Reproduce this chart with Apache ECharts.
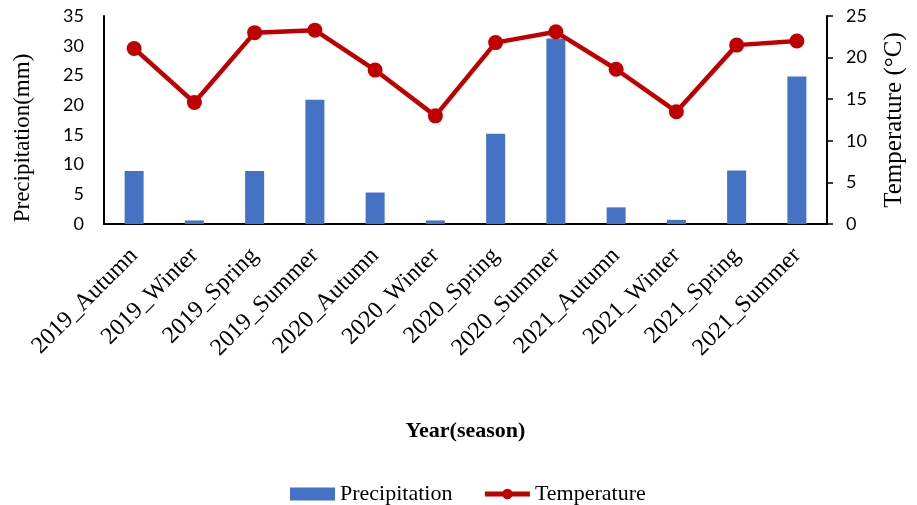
<!DOCTYPE html>
<html>
<head>
<meta charset="utf-8">
<script src="https://cdn.jsdelivr.net/npm/echarts@6/dist/echarts.min.js"></script>
<style>
html,body{margin:0;padding:0;background:#fff;}
#c{width:917px;height:505px;}
</style>
</head>
<body>
<div id="c"></div>
<script>
var categories = ['2019_Autumn','2019_Winter','2019_Spring','2019_Summer','2020_Autumn','2020_Winter','2020_Spring','2020_Summer','2021_Autumn','2021_Winter','2021_Spring','2021_Summer'];
var precipitation = [8.9, 0.6, 8.9, 20.9, 5.3, 0.6, 15.2, 31.2, 2.8, 0.7, 9.0, 24.8];
var temperature = [21.1, 14.6, 23.0, 23.3, 18.5, 13.0, 21.8, 23.1, 18.6, 13.5, 21.5, 22.0];
var leftTicks = {min: 0, max: 35, interval: 5};
var rightTicks = {min: 0, max: 25, interval: 5};

var serif = '"Liberation Serif", "Times New Roman", serif';
var sans = 'Lato, "Open Sans", sans-serif';
var chart = echarts.init(document.getElementById('c'));
chart.setOption({
  animation: false,
  backgroundColor: '#fff',
  grid: {left: 104, right: 90, top: 16, bottom: 281},
  legend: {
    left: 285, top: 478,
    itemWidth: 45, itemHeight: 13, itemGap: 30,
    textStyle: {fontFamily: serif, fontSize: 22, color: '#000'},
    data: [
      {name: 'Precipitation', icon: 'rect'},
      {name: 'Temperature', lineStyle: {width: 5, color: '#C00000'}}
    ]
  },
  xAxis: {
    type: 'category',
    data: categories,
    name: 'Year(season)',
    nameLocation: 'middle',
    nameGap: 196,
    nameTextStyle: {fontFamily: serif, fontSize: 22, fontWeight: 'bold', color: '#000'},
    axisLine: {lineStyle: {color: '#000', width: 2}},
    axisTick: {show: false},
    axisLabel: {rotate: 45, margin: 28, interval: 0, fontFamily: serif, fontSize: 24, color: '#000'}
  },
  yAxis: [{
    type: 'value',
    min: leftTicks.min, max: leftTicks.max, interval: leftTicks.interval,
    name: 'Precipitation(mm)',
    nameLocation: 'middle',
    nameGap: 70,
    nameTextStyle: {fontFamily: serif, fontSize: 23, color: '#000', padding: [0, 36, 0, 0]},
    axisLine: {show: true, lineStyle: {color: '#000', width: 2}},
    axisTick: {show: false},
    splitLine: {show: false},
    axisLabel: {margin: 20, fontFamily: sans, fontSize: 18, color: '#000'}
  }, {
    type: 'value',
    min: rightTicks.min, max: rightTicks.max, interval: rightTicks.interval,
    name: 'Temperature (°C)',
    nameLocation: 'middle',
    nameGap: 55,
    nameTextStyle: {fontFamily: serif, fontSize: 25, color: '#000'},
    axisLine: {show: true, lineStyle: {color: '#000', width: 2}},
    axisTick: {show: true, length: 6, lineStyle: {color: '#000', width: 1.5}},
    splitLine: {show: false},
    axisLabel: {margin: 19, fontFamily: sans, fontSize: 18, color: '#000'}
  }],
  series: [{
    name: 'Precipitation',
    type: 'bar',
    data: precipitation,
    barWidth: 19,
    itemStyle: {color: '#4472C4'}
  }, {
    name: 'Temperature',
    type: 'line',
    yAxisIndex: 1,
    data: temperature,
    symbol: 'circle',
    symbolSize: 15,
    lineStyle: {color: '#C00000', width: 4.5},
    itemStyle: {color: '#C00000'}
  }]
});
</script>
</body>
</html>
